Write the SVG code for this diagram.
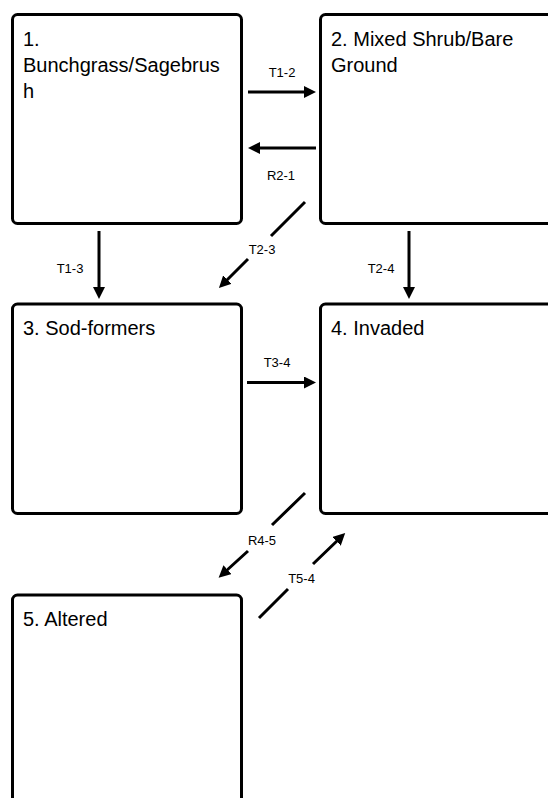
<svg xmlns="http://www.w3.org/2000/svg" width="548" height="798" viewBox="0 0 548 798">
<style>
.box{fill:#fff;stroke:#000;stroke-width:3}
.t{font-family:"Liberation Sans",Arial,sans-serif;font-size:20px;fill:#000}
.l{font-family:"Liberation Sans",Arial,sans-serif;font-size:13px;fill:#000;text-anchor:middle}
.c{fill:none;stroke:#000;stroke-width:3}
</style>
<defs>
<marker id="ah" viewBox="0 0 12 12" markerWidth="12" markerHeight="12" markerUnits="userSpaceOnUse" refX="2" refY="6" orient="auto">
<path d="M0,0 L12,6 L0,12 z" fill="#000"/>
</marker>
</defs>
<rect width="548" height="798" fill="#fff"/>
<g id="node1">
<rect class="box" x="12.5" y="14.5" width="229" height="209" rx="5"/>
<text class="t" x="23" y="46">1.</text>
<text class="t" x="23" y="72">Bunchgrass/Sagebrus</text>
<text class="t" x="23" y="98">h</text>
</g>
<g id="node2">
<rect class="box" x="320.5" y="14.5" width="240" height="209" rx="5"/>
<text class="t" x="331" y="46">2. Mixed Shrub/Bare</text>
<text class="t" x="331" y="72">Ground</text>
</g>
<g id="node3">
<rect class="box" x="12.5" y="304" width="229" height="209.5" rx="5"/>
<text class="t" x="23" y="335">3. Sod-formers</text>
</g>
<g id="node4">
<rect class="box" x="320.5" y="304" width="240" height="209.5" rx="5"/>
<text class="t" x="331" y="335">4. Invaded</text>
</g>
<g id="node5">
<rect class="box" x="12.5" y="595" width="229" height="220" rx="5"/>
<text class="t" x="23" y="626">5. Altered</text>
</g>
<g id="connectors">
<path class="c" d="M248,92 L306,92" marker-end="url(#ah)"/>
<text class="l" x="282" y="77">T1-2</text>
<path class="c" d="M316,148 L258,148" marker-end="url(#ah)"/>
<text class="l" x="281" y="180">R2-1</text>
<path class="c" d="M99,231 L99,289" marker-end="url(#ah)"/>
<text class="l" x="70" y="273">T1-3</text>
<path class="c" d="M409,231 L409,289" marker-end="url(#ah)"/>
<text class="l" x="381" y="273">T2-4</text>
<path class="c" d="M305,202 L271,236 M248,259 L226,281" marker-end="url(#ah)"/>
<text class="l" x="262" y="254">T2-3</text>
<path class="c" d="M247,382.5 L306,382.5" marker-end="url(#ah)"/>
<text class="l" x="277" y="367">T3-4</text>
<path class="c" d="M305,493 L272,525 M248,551 L226,571" marker-end="url(#ah)"/>
<text class="l" x="262" y="545">R4-5</text>
<path class="c" d="M259,618 L288,589 M313,564 L338,540" marker-end="url(#ah)"/>
<text class="l" x="301.5" y="583">T5-4</text>
</g>
</svg>
